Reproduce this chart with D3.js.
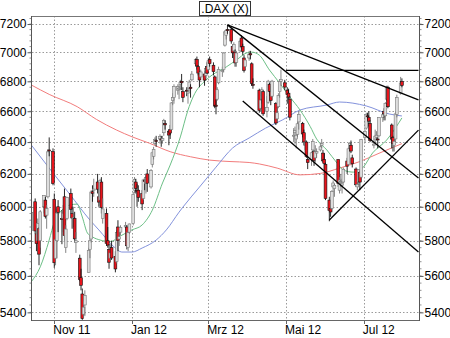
<!DOCTYPE html>
<html>
<head>
<meta charset="utf-8">
<script src="https://cdn.jsdelivr.net/npm/d3@7"></script>
<style>
  body { margin: 0; background: #fff; }
  svg { display: block; font-family: "Liberation Sans", Arial, sans-serif; }
</style>
</head>
<body>
<div id="chart"></div>
<script>
// daily candles, one array per month: [day, open, high, low, close]
const oct11 = [
  [14, 5860, 5990, 5850, 5967], [17, 6030, 6050, 5840, 5857], [18, 5840, 5890, 5740, 5783],
  [19, 5800, 5930, 5790, 5901], [20, 5870, 5880, 5660, 5723], [21, 5800, 5980, 5760, 5970],
  [24, 6000, 6070, 5960, 6069], [25, 6040, 6060, 5930, 5943], [26, 5950, 6010, 5870, 5989],
  [27, 6060, 6354, 6050, 6338], [28, 6350, 6430, 6310, 6346], [31, 6340, 6360, 6130, 6141]
];
const nov11 = [
  [1, 6045, 6080, 5645, 5674], [2, 5700, 5850, 5660, 5806], [3, 5800, 5990, 5700, 5962],
  [4, 6000, 6040, 5850, 5966], [7, 5930, 5980, 5780, 5928], [8, 5930, 6010, 5850, 5962],
  [9, 6060, 6110, 5800, 5830], [10, 5760, 5890, 5730, 5868], [11, 5930, 6060, 5920, 6057],
  [14, 6080, 6110, 5960, 5985], [15, 5960, 6000, 5870, 5933], [16, 5930, 6000, 5880, 5935],
  [17, 5930, 5970, 5790, 5811], [18, 5790, 5850, 5730, 5800], [21, 5700, 5720, 5570, 5580],
  [22, 5590, 5640, 5520, 5548], [23, 5500, 5530, 5360, 5367], [24, 5390, 5460, 5370, 5428],
  [25, 5440, 5520, 5380, 5492], [28, 5620, 5760, 5620, 5745], [29, 5750, 5830, 5700, 5800],
  [30, 5810, 6100, 5790, 6089]
];
const dec11 = [
  [1, 6090, 6130, 6030, 6080], [2, 6100, 6170, 6060, 6107], [5, 6150, 6200, 6080, 6106],
  [6, 6060, 6110, 6000, 6028], [7, 6040, 6170, 6010, 6160], [8, 6150, 6180, 5960, 5995],
  [9, 5930, 6050, 5900, 5987], [12, 5960, 5990, 5770, 5785], [13, 5800, 5880, 5760, 5775],
  [14, 5750, 5780, 5640, 5677], [15, 5700, 5780, 5680, 5730], [16, 5760, 5800, 5690, 5701],
  [19, 5710, 5740, 5620, 5639], [20, 5680, 5860, 5670, 5847], [21, 5880, 5920, 5740, 5801],
  [22, 5810, 5860, 5770, 5823], [23, 5850, 5890, 5830, 5878], [27, 5880, 5910, 5860, 5889],
  [28, 5880, 5890, 5750, 5771], [29, 5760, 5860, 5740, 5848], [30, 5850, 5900, 5840, 5898]
];
const jan12 = [
  [2, 5900, 6090, 5890, 6075], [3, 6100, 6180, 6080, 6166], [4, 6150, 6170, 6080, 6111],
  [5, 6100, 6140, 6000, 6096], [6, 6100, 6130, 6030, 6057], [9, 6080, 6100, 5980, 6017],
  [10, 6050, 6170, 6040, 6163], [11, 6160, 6170, 6100, 6152], [12, 6140, 6190, 6080, 6179],
  [13, 6200, 6230, 6090, 6143], [16, 6120, 6230, 6110, 6220], [17, 6260, 6340, 6240, 6332],
  [18, 6310, 6370, 6290, 6354], [19, 6390, 6430, 6380, 6416], [20, 6410, 6440, 6370, 6404],
  [23, 6420, 6450, 6390, 6436], [24, 6420, 6440, 6370, 6419], [25, 6410, 6440, 6390, 6422],
  [26, 6460, 6550, 6440, 6539], [27, 6520, 6540, 6480, 6511], [30, 6470, 6480, 6380, 6445],
  [31, 6480, 6510, 6420, 6458]
];
const feb12 = [
  [1, 6480, 6660, 6480, 6655], [2, 6670, 6720, 6640, 6691], [3, 6690, 6780, 6650, 6766],
  [6, 6740, 6780, 6710, 6764], [7, 6750, 6780, 6680, 6754], [8, 6780, 6810, 6740, 6794],
  [9, 6800, 6850, 6740, 6790], [10, 6730, 6760, 6660, 6692], [13, 6740, 6760, 6700, 6738],
  [14, 6720, 6760, 6650, 6728], [15, 6750, 6810, 6730, 6795], [16, 6760, 6780, 6690, 6751],
  [17, 6810, 6870, 6800, 6849], [20, 6920, 6960, 6900, 6949], [21, 6950, 6970, 6880, 6905],
  [22, 6900, 6910, 6840, 6856], [23, 6850, 6870, 6760, 6809], [24, 6830, 6880, 6820, 6864],
  [27, 6850, 6870, 6770, 6808], [28, 6840, 6900, 6820, 6887], [29, 6900, 6930, 6850, 6856]
];
const mar12 = [
  [1, 6880, 6960, 6870, 6941], [2, 6950, 6970, 6900, 6921], [5, 6910, 6930, 6840, 6866],
  [6, 6830, 6840, 6620, 6634], [7, 6640, 6680, 6580, 6633], [8, 6680, 6760, 6670, 6743],
  [9, 6790, 6900, 6780, 6880], [12, 6870, 6900, 6830, 6873], [13, 6880, 7000, 6860, 6995],
  [14, 7050, 7150, 7040, 7144], [15, 7120, 7160, 7090, 7155], [16, 7160, 7194, 7130, 7157],
  [19, 7160, 7170, 7060, 7079], [20, 7040, 7050, 6960, 6996], [21, 7010, 7070, 7000, 7054],
  [22, 7000, 7020, 6900, 6926], [23, 6930, 7010, 6900, 6995], [26, 7010, 7090, 7000, 7078],
  [27, 7100, 7120, 7020, 7037], [28, 7040, 7060, 6980, 7006], [29, 6960, 6980, 6860, 6875],
  [30, 6900, 6960, 6880, 6946]
];
const apr12 = [
  [2, 6960, 7010, 6940, 6984], [3, 6990, 7010, 6950, 6982], [4, 6920, 6930, 6770, 6784],
  [5, 6780, 6820, 6750, 6775], [10, 6740, 6750, 6590, 6606], [11, 6620, 6700, 6600, 6674],
  [12, 6680, 6760, 6650, 6743], [13, 6730, 6740, 6570, 6583], [16, 6600, 6700, 6560, 6625],
  [17, 6660, 6810, 6650, 6801], [18, 6780, 6790, 6700, 6732], [19, 6730, 6770, 6640, 6671],
  [20, 6700, 6810, 6690, 6801], [23, 6650, 6660, 6510, 6523], [24, 6550, 6620, 6530, 6590],
  [25, 6630, 6720, 6620, 6704], [26, 6730, 6810, 6690, 6801], [27, 6800, 6880, 6770, 6812],
  [30, 6790, 6810, 6740, 6761]
];
const may12 = [
  [2, 6740, 6760, 6650, 6711], [3, 6720, 6750, 6680, 6694], [4, 6680, 6700, 6540, 6561],
  [7, 6440, 6490, 6400, 6444], [8, 6460, 6500, 6390, 6475], [9, 6420, 6470, 6360, 6444],
  [10, 6450, 6530, 6430, 6518], [11, 6530, 6600, 6480, 6579], [14, 6520, 6530, 6430, 6452],
  [15, 6460, 6480, 6380, 6401], [16, 6380, 6420, 6350, 6385], [17, 6400, 6410, 6300, 6308],
  [18, 6290, 6310, 6230, 6271], [21, 6290, 6340, 6250, 6332], [22, 6350, 6420, 6340, 6404],
  [23, 6340, 6350, 6250, 6283], [24, 6300, 6380, 6270, 6339], [25, 6330, 6360, 6300, 6339],
  [28, 6350, 6390, 6340, 6370], [29, 6380, 6420, 6360, 6390], [30, 6330, 6350, 6270, 6281],
  [31, 6290, 6330, 6220, 6264]
];
const jun12 = [
  [1, 6260, 6270, 6040, 6050], [4, 6040, 6060, 5914, 5978], [5, 5990, 6000, 5940, 5969],
  [6, 5990, 6100, 5980, 6093], [7, 6120, 6160, 6090, 6144], [8, 6110, 6140, 6060, 6130],
  [11, 6290, 6290, 6120, 6141], [12, 6100, 6180, 6080, 6162], [13, 6150, 6200, 6120, 6152],
  [14, 6130, 6170, 6080, 6138], [15, 6150, 6240, 6140, 6229], [18, 6280, 6300, 6200, 6248],
  [19, 6260, 6370, 6250, 6357], [20, 6360, 6400, 6340, 6392], [21, 6380, 6410, 6330, 6343],
  [22, 6300, 6320, 6240, 6263], [25, 6230, 6240, 6120, 6133], [26, 6120, 6160, 6100, 6136],
  [27, 6150, 6230, 6130, 6228], [28, 6210, 6220, 6100, 6150], [29, 6180, 6420, 6180, 6416]
];
const jul12 = [
  [2, 6430, 6480, 6400, 6469], [3, 6490, 6590, 6480, 6578], [4, 6570, 6590, 6540, 6566],
  [5, 6560, 6600, 6500, 6535], [6, 6520, 6540, 6400, 6410], [9, 6380, 6420, 6360, 6387],
  [10, 6420, 6480, 6390, 6438], [11, 6430, 6470, 6410, 6444], [12, 6420, 6430, 6360, 6419],
  [13, 6440, 6560, 6430, 6558], [16, 6560, 6590, 6530, 6577], [17, 6600, 6620, 6540, 6583],
  [18, 6570, 6660, 6540, 6652], [19, 6680, 6770, 6670, 6758], [20, 6760, 6770, 6620, 6630],
  [23, 6510, 6520, 6360, 6419], [24, 6430, 6440, 6340, 6390], [25, 6380, 6420, 6340, 6405],
  [26, 6420, 6600, 6400, 6583], [27, 6580, 6710, 6560, 6690], [30, 6720, 6830, 6710, 6789],
  [31, 6800, 6820, 6760, 6772]
];

// moving averages: [date, value]
const maGreen = [
  ["2011-10-14", 5568], ["2011-10-21", 5651], ["2011-10-28", 5804], ["2011-11-01", 5909],
  ["2011-11-07", 5980], ["2011-11-13", 6010], ["2011-11-19", 6016], ["2011-11-23", 5939],
  ["2011-11-27", 5845], ["2011-12-01", 5822], ["2011-12-07", 5804], ["2011-12-15", 5795],
  ["2011-12-23", 5828], ["2012-01-01", 5863], ["2012-01-09", 5892], ["2012-01-17", 5980],
  ["2012-01-25", 6144], ["2012-01-31", 6255], ["2012-02-08", 6433], ["2012-02-14", 6608],
  ["2012-02-18", 6695], ["2012-02-28", 6808], ["2012-03-04", 6843], ["2012-03-15", 6898],
  ["2012-03-23", 6946], ["2012-03-31", 6995], ["2012-04-04", 7001], ["2012-04-10", 6980],
  ["2012-04-18", 6877], ["2012-04-26", 6788], ["2012-05-04", 6695], ["2012-05-12", 6608],
  ["2012-05-20", 6500], ["2012-05-25", 6420], ["2012-06-02", 6350], ["2012-06-10", 6268],
  ["2012-06-15", 6224], ["2012-06-23", 6211], ["2012-06-30", 6236], ["2012-07-08", 6331],
  ["2012-07-19", 6413], ["2012-07-31", 6556]
];
const maBlue = [
  ["2011-10-14", 6381], ["2011-10-28", 6236], ["2011-11-13", 6077], ["2011-11-29", 5921],
  ["2011-12-06", 5863], ["2011-12-18", 5764], ["2011-12-24", 5735], ["2012-01-01", 5735],
  ["2012-01-09", 5758], ["2012-01-20", 5804], ["2012-01-28", 5863], ["2012-02-07", 5968],
  ["2012-02-10", 5998], ["2012-02-23", 6119], ["2012-03-07", 6242], ["2012-03-20", 6362],
  ["2012-04-02", 6426], ["2012-04-15", 6490], ["2012-04-28", 6542], ["2012-05-12", 6608],
  ["2012-06-02", 6641], ["2012-06-12", 6661], ["2012-07-03", 6635], ["2012-07-21", 6582],
  ["2012-07-31", 6569]
];
const maRed = [
  ["2011-10-14", 6775], ["2011-10-28", 6712], ["2011-11-19", 6630], ["2011-12-04", 6547],
  ["2011-12-20", 6477], ["2012-01-01", 6434], ["2012-01-15", 6392], ["2012-01-31", 6339],
  ["2012-02-16", 6307], ["2012-03-02", 6286], ["2012-03-18", 6277], ["2012-04-02", 6271],
  ["2012-04-10", 6262], ["2012-04-24", 6236], ["2012-05-12", 6194], ["2012-05-28", 6203],
  ["2012-06-12", 6236], ["2012-06-28", 6277], ["2012-07-13", 6329], ["2012-07-31", 6390]
];

// drawn trend lines: [start, end], each [date, value]
const trendLines = [
  [["2012-03-16", 7194], ["2012-08-13", 6675]],
  [["2012-03-16", 7194], ["2012-08-13", 6174]],
  [["2012-03-28", 6668], ["2012-08-13", 5735]],
  [["2012-05-01", 6875], ["2012-08-13", 6875]],
  [["2012-06-04", 5921], ["2012-08-13", 6477]]
];

const priceTicks = [5400, 5600, 5800, 6000, 6200, 6400, 6600, 6800, 7000, 7200];
const monthTicks = [
  ["2011-11-01", "Nov 11"], ["2012-01-01", "Jan 12"], ["2012-03-01", "Mrz 12"],
  ["2012-05-01", "Mai 12"], ["2012-07-01", "Jul 12"]
];
const title = ".DAX (X)";

const width = 450;
const height = 338;
const plotL = 32, plotR = 419, plotT = 16, plotB = 320;
const parseDate = d3.timeParse("%Y-%m-%d");

const months = [
  [2011, 9, oct11], [2011, 10, nov11], [2011, 11, dec11], [2012, 0, jan12], [2012, 1, feb12],
  [2012, 2, mar12], [2012, 3, apr12], [2012, 4, may12], [2012, 5, jun12], [2012, 6, jul12]
];
const candles = months.flatMap(([yr, mo, rows]) =>
  rows.map(r => ({ date: new Date(yr, mo, r[0]), o: r[1], h: r[2], l: r[3], c: r[4] }))
);

const svg = d3.select("#chart").append("svg")
  .attr("width", width)
  .attr("height", height);

const x = d3.scaleTime()
  .domain([new Date(2011, 9, 14, 12), new Date(2012, 7, 13, 10)])
  .range([plotL, plotR]);
const y = d3.scaleLog()
  .domain([5359, 7258])
  .range([plotB, plotT]);

svg.append("defs").append("clipPath").attr("id", "plot")
  .append("rect").attr("x", plotL).attr("y", plotT)
  .attr("width", plotR - plotL).attr("height", plotB - plotT);

// grid
const grid = svg.append("g").attr("stroke", "#9a9a9a").attr("stroke-dasharray", "1.5,2");
grid.selectAll(".hg").data(priceTicks).join("line")
  .attr("x1", plotL).attr("x2", plotR)
  .attr("y1", d => Math.round(y(d)) + 0.5).attr("y2", d => Math.round(y(d)) + 0.5);
grid.selectAll(".vg").data(monthTicks).join("line")
  .attr("y1", plotT).attr("y2", plotB)
  .attr("x1", d => Math.round(x(parseDate(d[0]))) + 0.5)
  .attr("x2", d => Math.round(x(parseDate(d[0]))) + 0.5);

const plot = svg.append("g").attr("clip-path", "url(#plot)");

// moving averages
const maLine = d3.line()
  .x(d => x(parseDate(d[0])))
  .y(d => y(d[1]))
  .curve(d3.curveMonotoneX);
[[maRed, "#f27c7c"], [maBlue, "#8392dc"], [maGreen, "#6cbf86"]].forEach(([data, col]) => {
  plot.append("path").datum(data)
    .attr("fill", "none").attr("stroke", col).attr("stroke-width", 1)
    .attr("d", maLine);
});

// candles
const bodyW = 2.8;
const cg = plot.selectAll(".candle").data(candles).join("g");
cg.append("line")
  .attr("x1", d => x(d.date)).attr("x2", d => x(d.date))
  .attr("y1", d => y(d.h)).attr("y2", d => y(d.l))
  .attr("stroke", d => d.c >= d.o ? "#777" : "#111")
  .attr("stroke-width", 0.9);
cg.append("rect")
  .attr("x", d => x(d.date) - bodyW / 2)
  .attr("width", bodyW)
  .attr("y", d => y(Math.max(d.o, d.c)))
  .attr("height", d => Math.max(1, y(Math.min(d.o, d.c)) - y(Math.max(d.o, d.c))))
  .attr("fill", d => d.c >= d.o ? "#dedede" : "#e8141c")
  .attr("stroke", d => d.c >= d.o ? "#777" : "#111")
  .attr("stroke-width", 0.6);

// trend lines
plot.selectAll(".trend").data(trendLines).join("line")
  .attr("x1", d => x(parseDate(d[0][0]))).attr("y1", d => y(d[0][1]))
  .attr("x2", d => x(parseDate(d[1][0]))).attr("y2", d => y(d[1][1]))
  .attr("stroke", "#000").attr("stroke-width", 1.3);

// frame
svg.append("line").attr("x1", plotL).attr("x2", plotR).attr("y1", plotT + 0.5).attr("y2", plotT + 0.5)
  .attr("stroke", "#777");
svg.append("line").attr("x1", plotL).attr("x2", plotR).attr("y1", plotB + 0.5).attr("y2", plotB + 0.5)
  .attr("stroke", "#666").attr("stroke-width", 1.2);
[plotL - 0.5, plotR + 0.5].forEach(xx => {
  svg.append("line").attr("x1", xx).attr("x2", xx).attr("y1", plotT).attr("y2", plotB + 1)
    .attr("stroke", "#555");
});

// y axes (both sides)
const leftAxis = d3.axisLeft(y).tickValues(priceTicks).tickFormat(d3.format("d")).tickSize(4).tickPadding(1);
const rightAxis = d3.axisRight(y).tickValues(priceTicks).tickFormat(d3.format("d")).tickSize(4).tickPadding(1);
const minor = d3.range(5400, 7250, 40);
[[leftAxis, plotL - 0.5, -1], [rightAxis, plotR + 0.5, 1]].forEach(([ax, xx, dir]) => {
  const g = svg.append("g").attr("transform", `translate(${xx},0)`).call(ax);
  g.select(".domain").remove();
  g.selectAll("line").attr("stroke", "#555");
  g.selectAll("text").attr("font-size", 12).attr("fill", "#000")
    .attr("font-family", "\"Liberation Sans\", Arial, sans-serif");
  g.selectAll(".minor").data(minor).join("line")
    .attr("x1", 0).attr("x2", dir * 2)
    .attr("y1", d => y(d)).attr("y2", d => y(d))
    .attr("stroke", "#666").attr("stroke-width", 0.7);
});

// x axis
const xg = svg.append("g");
xg.selectAll(".xt").data(monthTicks).join("line")
  .attr("x1", d => Math.round(x(parseDate(d[0]))) + 0.5)
  .attr("x2", d => Math.round(x(parseDate(d[0]))) + 0.5)
  .attr("y1", plotB).attr("y2", plotB + 4)
  .attr("stroke", "#666");
xg.selectAll("text").data(monthTicks).join("text")
  .attr("x", d => x(parseDate(d[0])) - 1)
  .attr("y", 334)
  .attr("font-size", 12)
  .text(d => d[1]);

// title box
const tg = svg.append("g");
tg.append("rect").attr("x", 199.5).attr("y", 1.5).attr("width", 51).attr("height", 14)
  .attr("fill", "#fff").attr("stroke", "#333");
tg.append("text").attr("x", 225).attr("y", 13)
  .attr("text-anchor", "middle").attr("font-size", 12).text(title);
</script>
</body>
</html>
